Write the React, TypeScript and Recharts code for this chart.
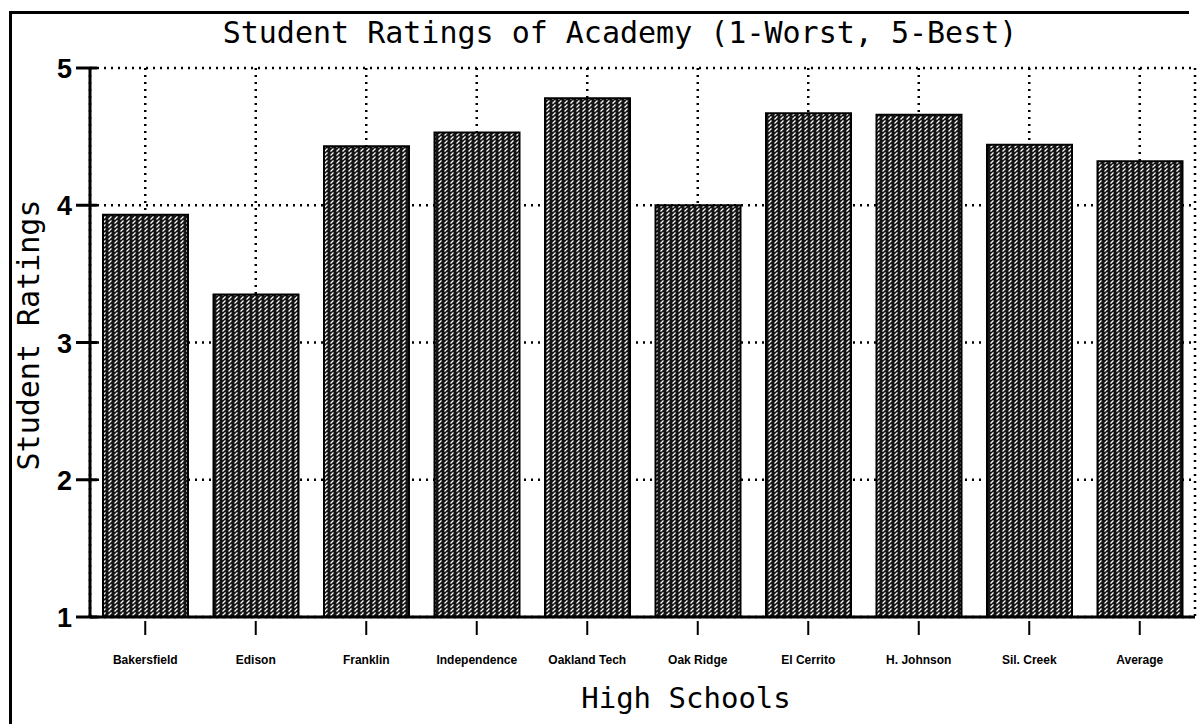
import React from 'react';
import { BarChart, Bar, XAxis, YAxis, CartesianGrid } from 'recharts';

const schools = [
  'Bakersfield',
  'Edison',
  'Franklin',
  'Independence',
  'Oakland Tech',
  'Oak Ridge',
  'El Cerrito',
  'H. Johnson',
  'Sil. Creek',
  'Average',
];
const ratings = [3.93, 3.35, 4.43, 4.53, 4.78, 4.0, 4.67, 4.66, 4.44, 4.32];
const yTicks = [1, 2, 3, 4, 5];

const data = schools.map((name, i) => ({ name, rating: ratings[i] }));

const MONO = '"DejaVu Sans Mono", monospace';

// y tick: short line crossing the axis, big bold digit on the left
const YTick = (props: any) => {
  const { x, y, payload } = props;
  return (
    <g>
      <line x1={x - 14} x2={x + 7} y1={y} y2={y} stroke="#000" strokeWidth={3} />
      <text
        x={x - 18}
        y={y + 10}
        textAnchor="end"
        fontFamily='"Liberation Sans", Arial, sans-serif'
        fontWeight="bold"
        fontSize={27}
        fill="#000"
      >
        {payload.value}
      </text>
    </g>
  );
};

const XTick = (props: any) => {
  const { x, y, payload } = props;
  return (
    <g>
      <line x1={x} x2={x} y1={y + 2} y2={y + 16} stroke="#000" strokeWidth={2} />
      <text
        x={x}
        y={y + 45}
        textAnchor="middle"
        fontFamily='"Liberation Sans", Arial, sans-serif'
        fontWeight="bold"
        fontSize={12}
        fill="#000"
      >
        {payload.value}
      </text>
    </g>
  );
};

export default function App() {
  return (
    <div style={{ position: 'absolute', left: 0, top: 0, width: 1198, height: 724, background: '#fff', overflow: 'hidden' }}>
      {/* old page frame: top and left edges only */}
      <div style={{ position: 'absolute', left: 9, top: 11, width: 1180, height: 3, background: '#000' }} />
      <div style={{ position: 'absolute', left: 9, top: 11, width: 3, height: 713, background: '#000' }} />
      <div
        style={{
          position: 'absolute',
          left: 620,
          top: 32,
          transform: 'translate(-50%, -50%)',
          fontFamily: MONO,
          fontSize: 30,
          whiteSpace: 'nowrap',
          color: '#000',
        }}
      >
        Student Ratings of Academy (1-Worst, 5-Best)
      </div>
      <div
        style={{
          position: 'absolute',
          left: 28,
          top: 335,
          transform: 'translate(-50%, -50%) rotate(-90deg)',
          fontFamily: MONO,
          fontSize: 30,
          whiteSpace: 'nowrap',
          color: '#000',
        }}
      >
        Student Ratings
      </div>
      <div
        style={{
          position: 'absolute',
          left: 686,
          top: 698,
          transform: 'translate(-50%, -50%)',
          fontFamily: MONO,
          fontSize: 29,
          whiteSpace: 'nowrap',
          color: '#000',
        }}
      >
        High Schools
      </div>
      <div style={{ position: 'absolute', left: 0, top: 0 }}>
        <BarChart
          width={1198}
          height={724}
          data={data}
          margin={{ top: 68, right: 3, left: 0, bottom: 0 }}
          barSize={85}
        >
          <defs>
            <pattern id="hatch" width="6" height="4" patternUnits="userSpaceOnUse">
              <rect width="6" height="4" fill="#151515" />
              <line x1="0.5" y1="3.5" x2="3.5" y2="0.5" stroke="#fff" strokeWidth={1.3} />
            </pattern>
          </defs>
          <CartesianGrid stroke="#000" strokeWidth={2.5} strokeDasharray="2 5" />
          <XAxis
            dataKey="name"
            interval={0}
            height={107}
            tickSize={0}
            tick={<XTick />}
            axisLine={{ stroke: '#000', strokeWidth: 3 }}
            tickLine={false}
          />
          <YAxis
            domain={[1, 5]}
            ticks={yTicks}
            width={90}
            tickSize={0}
            tickMargin={0}
            tick={<YTick />}
            tickLine={false}
            axisLine={{ stroke: '#000', strokeWidth: 3 }}
          />
          <Bar dataKey="rating" fill="url(#hatch)" stroke="#000" strokeWidth={2} isAnimationActive={false} />
        </BarChart>
      </div>
    </div>
  );
}
